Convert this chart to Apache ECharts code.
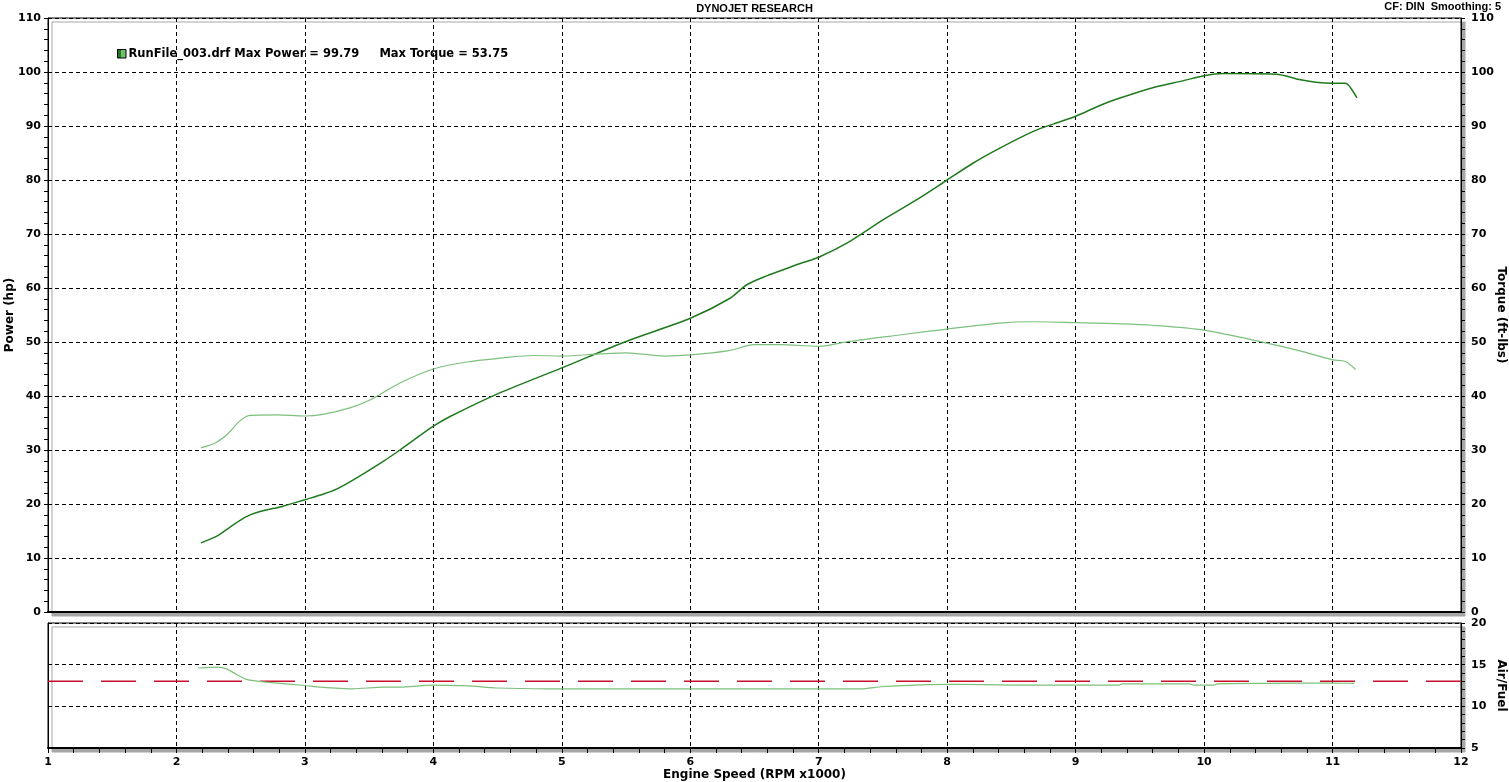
<!DOCTYPE html>
<html>
<head>
<meta charset="utf-8">
<script src="https://cdn.jsdelivr.net/npm/echarts@6/dist/echarts.min.js"></script>
<style>
html,body{margin:0;padding:0;background:#fff;}
#chart{width:1509px;height:782px;}
</style>
</head>
<body>
<div id="chart"></div>
<script>
// ---- data ----
const powerRpm = [2.19,2.31,2.41,2.54,2.65,2.83,3.0,3.14,3.25,3.4,3.61,3.74,4.0,4.13,4.5,5.0,5.5,6.0,6.31,6.44,6.6,6.75,6.85,7.0,7.24,7.5,7.76,8.0,8.2,8.41,8.67,8.83,9.0,9.18,9.31,9.6,9.84,10.0,10.15,10.56,10.74,10.87,11.0,11.1,11.14,11.19];
const powerHp  = [12.8,14.0,15.6,17.6,18.6,19.6,20.8,21.8,22.8,24.8,27.9,30.0,34.4,36.2,40.4,45.2,50.1,54.4,58.1,60.6,62.3,63.6,64.5,65.7,68.6,72.6,76.3,80.0,83.1,85.9,89.0,90.4,91.8,93.7,94.9,97.1,98.4,99.3,99.7,99.6,98.6,98.1,97.9,97.9,97.1,95.2];

const torqueRpm = [2.19,2.31,2.4,2.49,2.57,2.78,3.0,3.14,3.35,3.51,3.74,4.0,4.26,4.52,4.78,5.0,5.3,5.5,5.8,6.0,6.3,6.5,6.7,7.0,7.24,7.63,8.0,8.41,8.67,9.0,9.31,9.6,10.0,10.49,10.74,11.0,11.1,11.18];
const torqueFtLb = [30.4,31.4,33.0,35.3,36.4,36.5,36.3,36.6,37.8,39.3,42.4,45.0,46.3,47.0,47.5,47.4,47.8,48.0,47.4,47.6,48.4,49.5,49.5,49.2,50.1,51.3,52.4,53.5,53.75,53.6,53.4,53.1,52.2,49.8,48.4,46.7,46.4,44.9];

const afrRpm = [2.17,2.32,2.39,2.47,2.55,2.7,3.0,3.12,3.37,3.61,3.74,3.99,4.27,4.49,4.88,5.5,6.0,6.5,7.0,7.33,7.49,7.85,8.07,8.5,9.0,9.34,9.36,9.89,9.92,10.08,10.1,10.5,11.0,11.17];
const afrRatio = [14.6,14.7,14.5,13.8,13.2,12.9,12.5,12.3,12.1,12.3,12.3,12.55,12.45,12.2,12.1,12.1,12.1,12.1,12.1,12.1,12.35,12.6,12.65,12.55,12.55,12.55,12.7,12.7,12.55,12.55,12.7,12.75,12.8,12.75];
const afrTargetRpm = [1, 12];
const afrTargetRatio = [13, 13];

const xTicks = {min:1, max:12, interval:1};
const titleText = 'DYNOJET RESEARCH';
const infoText = 'CF: DIN  Smoothing: 5';
const legendText = 'RunFile_003.drf Max Power = 99.79     Max Torque = 53.75';

// ---- chart ----
const pair = (xs, ys) => xs.map((x, i) => [x, ys[i]]);
const chart = echarts.init(document.getElementById('chart'));
const labelFont = {color:'#000', fontWeight:'bold', fontSize:11, fontFamily:'DejaVu Sans'};
const nameFont = {color:'#000', fontWeight:'bold', fontSize:12, fontFamily:'DejaVu Sans'};
const dash = {color:'#000', width:1, type:[4,3]};
const gridStyle = {show:true, borderColor:'#000', borderWidth:1, backgroundColor:'#fff',
  shadowColor:'#a6a6a6', shadowOffsetX:4, shadowOffsetY:4, shadowBlur:0,
  containLabel:false, outerBoundsMode:'none'};

chart.setOption({
  animation:false,
  backgroundColor:'#fff',
  title:[
    {text:titleText, left:'center', top:3, padding:0, textStyle:{fontSize:11, fontWeight:'bold', fontFamily:'Liberation Sans', color:'#000'}},
    {text:infoText, right:8, top:1, padding:0, textStyle:{fontSize:11, fontWeight:'bold', fontFamily:'Liberation Sans', color:'#000'}}
  ],
  graphic:[
    {type:'group', x:117, y:49, children:[
      {type:'rect', shape:{x:0, y:0, width:4.5, height:9}, style:{fill:'#1f7a1f'}},
      {type:'rect', shape:{x:4.5, y:0, width:4.5, height:9}, style:{fill:'#6cc06c'}},
      {type:'rect', shape:{x:0.5, y:0.5, width:8.5, height:8.5}, style:{fill:'none', stroke:'#000', lineWidth:1}},
      {type:'text', x:11.5, y:5.5, style:{text:legendText, fill:'#000', font:'bold 11.5px "DejaVu Sans"', verticalAlign:'middle', textVerticalAlign:'middle'}}
    ]}
  ],
  grid:[
    Object.assign({left:48, right:48, top:18, height:594}, gridStyle),
    Object.assign({left:48, right:48, top:623, height:125}, gridStyle)
  ],
  xAxis:[
    {gridIndex:0, type:'value', min:xTicks.min, max:xTicks.max, interval:xTicks.interval,
     axisLabel:{show:false}, axisTick:{show:false},
     axisLine:{show:true, lineStyle:{color:'#000', width:2}},
     splitLine:{show:true, lineStyle:dash}},
    {gridIndex:1, type:'value', min:xTicks.min, max:xTicks.max, interval:xTicks.interval,
     axisLabel:Object.assign({margin:9}, labelFont),
     axisTick:{show:true, length:5, lineStyle:{color:'#000'}},
     minorTick:{show:true, splitNumber:5, length:5, lineStyle:{color:'#000'}},
     axisLine:{show:true, lineStyle:{color:'#000', width:2}},
     splitLine:{show:true, lineStyle:dash},
     name:'Engine Speed (RPM x1000)', nameLocation:'middle', nameGap:21, nameMoveOverlap:false, nameTextStyle:nameFont}
  ],
  yAxis:[
    {gridIndex:0, type:'value', position:'left', min:0, max:110, interval:10,
     axisLabel:Object.assign({margin:7}, labelFont),
     axisTick:{show:true, length:4, lineStyle:{color:'#000'}},
     minorTick:{show:true, splitNumber:5, length:4, lineStyle:{color:'#000'}},
     axisLine:{show:true, lineStyle:{color:'#000'}},
     splitLine:{show:true, lineStyle:dash},
     name:'Power (hp)', nameLocation:'middle', nameGap:32, nameMoveOverlap:false, nameTextStyle:nameFont},
    {gridIndex:0, type:'value', position:'right', min:0, max:110, interval:10,
     axisLabel:Object.assign({margin:10}, labelFont),
     axisTick:{show:true, length:4, lineStyle:{color:'#000'}},
     minorTick:{show:true, splitNumber:5, length:4, lineStyle:{color:'#000'}},
     axisLine:{show:true, lineStyle:{color:'#000'}},
     splitLine:{show:false},
     name:'Torque (ft-lbs)', nameLocation:'middle', nameRotate:-90, nameGap:34, nameMoveOverlap:false, nameTextStyle:nameFont},
    {gridIndex:1, type:'value', position:'left', min:5, max:20, interval:5,
     axisLabel:{show:false}, axisTick:{show:false},
     axisLine:{show:true, lineStyle:{color:'#000'}},
     splitLine:{show:true, lineStyle:dash}},
    {gridIndex:1, type:'value', position:'right', min:5, max:20, interval:5,
     axisLabel:Object.assign({margin:10}, labelFont),
     axisTick:{show:true, length:4, lineStyle:{color:'#000'}},
     minorTick:{show:true, splitNumber:5, length:4, lineStyle:{color:'#000'}},
     axisLine:{show:true, lineStyle:{color:'#000'}},
     splitLine:{show:false},
     name:'Air/Fuel', nameLocation:'middle', nameRotate:-90, nameGap:34, nameMoveOverlap:false, nameTextStyle:nameFont}
  ],
  series:[
    {name:'Power', type:'line', xAxisIndex:0, yAxisIndex:0, data:pair(powerRpm, powerHp),
     smooth:0.3, symbol:'none', lineStyle:{color:'#1f7a1f', width:1.5}},
    {name:'Torque', type:'line', xAxisIndex:0, yAxisIndex:1, data:pair(torqueRpm, torqueFtLb),
     smooth:0.3, symbol:'none', lineStyle:{color:'#7cc07c', width:1.2}},
    {name:'AFR Target', type:'line', xAxisIndex:1, yAxisIndex:3, data:pair(afrTargetRpm, afrTargetRatio),
     symbol:'none', silent:true, z:1, lineStyle:{color:'#c8102e', width:1.5, type:[35,18]}},
    {name:'Air/Fuel', type:'line', xAxisIndex:1, yAxisIndex:3, data:pair(afrRpm, afrRatio),
     smooth:0.2, symbol:'none', z:2, lineStyle:{color:'#7cc07c', width:1.2}}
  ]
});
</script>
</body>
</html>
